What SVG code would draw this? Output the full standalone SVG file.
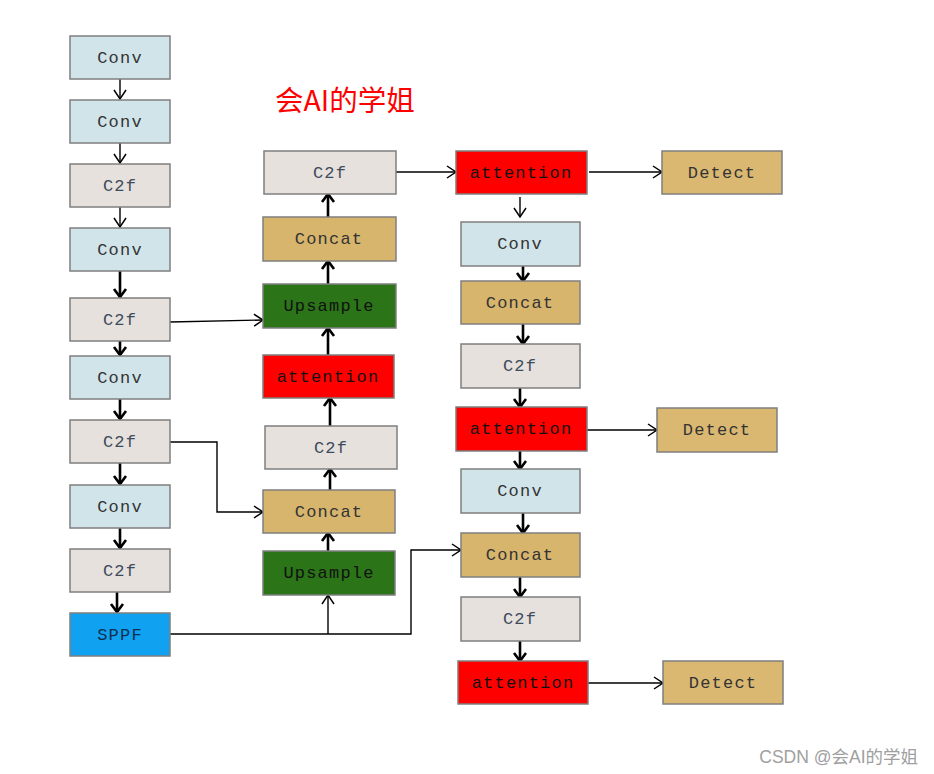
<svg xmlns="http://www.w3.org/2000/svg" width="934" height="774" viewBox="0 0 934 774">
<style>
.b{stroke:#7f7f7f;stroke-width:1.5}
.conv{fill:#d1e4ea}.c2f{fill:#e6e1dc}.cat{fill:#d8b56d}.det{fill:#dab872}.up{fill:#2b7418}.att{fill:#ff0000}.sppf{fill:#11a1f1}
.t{font-family:"Liberation Mono","Courier New",monospace;font-size:17px;letter-spacing:1.2px;text-anchor:middle;fill:#333}
.c2t{fill:#3d4b5c}
.dk{fill:#111}
.thin{stroke:#000;stroke-width:1.4;fill:none;marker-end:url(#ah)}
.thick{stroke:#000;stroke-width:2.6;fill:none;marker-end:url(#ahk)}
</style>
<defs>
<marker id="ah" markerUnits="userSpaceOnUse" viewBox="-1 -1 12 14" refX="9" refY="6" markerWidth="12" markerHeight="14" orient="auto"><path d="M0,0 L9,6 L0,12" fill="none" stroke="#000" stroke-width="1.5"/></marker>
<marker id="ahk" markerUnits="userSpaceOnUse" viewBox="-2 -2 14 16" refX="8" refY="6" markerWidth="14" markerHeight="16" orient="auto"><path d="M0,0 L8,6 L0,12" fill="none" stroke="#000" stroke-width="2.6"/></marker>
</defs>
<rect width="934" height="774" fill="#fff"/>
<text x="275" y="111" font-family="'Noto Sans CJK SC','Liberation Sans',sans-serif" font-size="28.5" fill="#ff0000">会AI的学姐</text>
<g id="connectors">
<path class="thin" d="M120,79V99"/>
<path class="thin" d="M120,143V163"/>
<path class="thin" d="M120,207V227"/>
<path class="thick" d="M120,271V297"/>
<path class="thick" d="M120,341V355"/>
<path class="thick" d="M120,399V419"/>
<path class="thick" d="M120,463V484"/>
<path class="thick" d="M120,528V548"/>
<path class="thick" d="M117,592V612"/>
<path class="thick" d="M328,551V533"/>
<path class="thick" d="M330,490V469"/>
<path class="thick" d="M330,426V398"/>
<path class="thick" d="M328,355V328"/>
<path class="thick" d="M328,284V261"/>
<path class="thick" d="M328,217V194"/>
<path class="thin" d="M170,634H411V550H461"/>
<path class="thin" d="M328,634V595"/>
<path class="thin" d="M170,322L263,320"/>
<path class="thin" d="M170,442H217V512H263"/>
<path class="thin" d="M396,172H456"/>
<path class="thin" d="M589,172H662"/>
<path class="thin" d="M520,197V217"/>
<path class="thin" d="M587,430H657"/>
<path class="thin" d="M588,683H663"/>
<path class="thick" d="M523,266V281"/>
<path class="thick" d="M523,324V344"/>
<path class="thick" d="M520,388V407"/>
<path class="thick" d="M520,451V469"/>
<path class="thick" d="M523,513V533"/>
<path class="thick" d="M520,577V597"/>
<path class="thick" d="M520,641V661"/>
</g>
<g id="n1"><rect class="b conv" x="70" y="36" width="100" height="43"/><text class="t" x="120" y="63">Conv</text></g>
<g id="n2"><rect class="b conv" x="70" y="100" width="100" height="43"/><text class="t" x="120" y="127">Conv</text></g>
<g id="n3"><rect class="b c2f" x="70" y="164" width="100" height="43"/><text class="t c2t" x="120" y="191">C2f</text></g>
<g id="n4"><rect class="b conv" x="70" y="228" width="100" height="43"/><text class="t" x="120" y="255">Conv</text></g>
<g id="n5"><rect class="b c2f" x="70" y="298" width="100" height="43"/><text class="t c2t" x="120" y="325">C2f</text></g>
<g id="n6"><rect class="b conv" x="70" y="356" width="100" height="43"/><text class="t" x="120" y="383">Conv</text></g>
<g id="n7"><rect class="b c2f" x="70" y="420" width="100" height="43"/><text class="t c2t" x="120" y="447">C2f</text></g>
<g id="n8"><rect class="b conv" x="70" y="485" width="100" height="43"/><text class="t" x="120" y="512">Conv</text></g>
<g id="n9"><rect class="b c2f" x="70" y="549" width="100" height="43"/><text class="t c2t" x="120" y="576">C2f</text></g>
<g id="n10"><rect class="b sppf" x="70" y="613" width="100" height="43"/><text class="t" x="120" y="640" style="fill:#0d3050">SPPF</text></g>
<g id="m1"><rect class="b c2f" x="264" y="151" width="132" height="43"/><text class="t c2t" x="330" y="178">C2f</text></g>
<g id="m2"><rect class="b cat" x="263" y="217" width="133" height="44"/><text class="t" x="329" y="244">Concat</text></g>
<g id="m3"><rect class="b up" x="263" y="284" width="133" height="44"/><text class="t dk" x="329" y="311">Upsample</text></g>
<g id="m4"><rect class="b att" x="263" y="355" width="131" height="43"/><text class="t dk" x="328" y="382">attention</text></g>
<g id="m5"><rect class="b c2f" x="265" y="426" width="132" height="43"/><text class="t c2t" x="331" y="453">C2f</text></g>
<g id="m6"><rect class="b cat" x="263" y="490" width="132" height="43"/><text class="t" x="329" y="517">Concat</text></g>
<g id="m7"><rect class="b up" x="263" y="551" width="132" height="44"/><text class="t dk" x="329" y="578">Upsample</text></g>
<g id="r1"><rect class="b att" x="456" y="151" width="131" height="43"/><text class="t dk" x="521" y="178">attention</text></g>
<g id="d1"><rect class="b det" x="662" y="151" width="120" height="43"/><text class="t" x="722" y="178">Detect</text></g>
<g id="r2"><rect class="b conv" x="461" y="222" width="119" height="44"/><text class="t" x="520" y="249">Conv</text></g>
<g id="r3"><rect class="b cat" x="461" y="281" width="119" height="43"/><text class="t" x="520" y="308">Concat</text></g>
<g id="r4"><rect class="b c2f" x="461" y="344" width="119" height="44"/><text class="t c2t" x="520" y="371">C2f</text></g>
<g id="r5"><rect class="b att" x="456" y="407" width="131" height="44"/><text class="t dk" x="521" y="434">attention</text></g>
<g id="d2"><rect class="b det" x="657" y="408" width="120" height="44"/><text class="t" x="717" y="435">Detect</text></g>
<g id="r6"><rect class="b conv" x="461" y="469" width="119" height="44"/><text class="t" x="520" y="496">Conv</text></g>
<g id="r7"><rect class="b cat" x="461" y="533" width="119" height="44"/><text class="t" x="520" y="560">Concat</text></g>
<g id="r8"><rect class="b c2f" x="461" y="597" width="119" height="44"/><text class="t c2t" x="520" y="624">C2f</text></g>
<g id="r9"><rect class="b att" x="458" y="661" width="130" height="43"/><text class="t dk" x="523" y="688">attention</text></g>
<g id="d3"><rect class="b det" x="663" y="661" width="120" height="43"/><text class="t" x="723" y="688">Detect</text></g>
<text x="918" y="763" text-anchor="end" font-family="'Liberation Sans','Noto Sans CJK SC',sans-serif" font-size="17.5" fill="#a0a0a0">CSDN @会AI的学姐</text>
</svg>
